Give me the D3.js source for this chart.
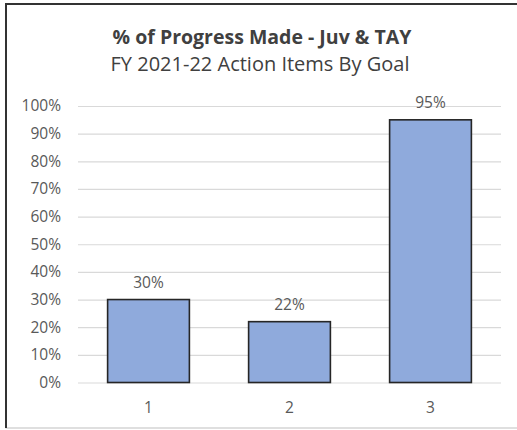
<!DOCTYPE html>
<html lang="en">
<head>
	<meta charset="UTF-8">
	<title>% of Progress Made - Juv &amp; TAY</title>
	<script src="https://cdn.jsdelivr.net/npm/d3@7/dist/d3.min.js"></script>
	<style>
		body { margin: 0; background: #fff; }
		svg text { font-family: "Open Sans", sans-serif; }
	</style>
</head>
<body>
<div id="viz"></div>
<script>
	var goals = ['1', '2', '3'];
	var progress = [30, 22, 95];
	var yTicks = [0, 10, 20, 30, 40, 50, 60, 70, 80, 90, 100];

	var W = 517, H = 430;
	var margin = {top: 106, left: 78, right: 16, bottom: 47.5};
	var width = W - margin.left - margin.right;
	var height = H - margin.top - margin.bottom;

	var svg = d3.select('#viz').append('svg')
		.attr('width', W)
		.attr('height', H);

	// frame of the chart area
	svg.append('rect')
		.attr('x', 6).attr('y', 4)
		.attr('width', 520).attr('height', 424)
		.attr('fill', 'none')
		.attr('stroke', '#bfbfbf');
	svg.append('path')
		.attr('d', 'M6,428V4H517')
		.attr('fill', 'none')
		.attr('stroke', '#333')
		.attr('stroke-width', 2);

	svg.append('text')
		.attr('x', 262).attr('y', 44)
		.attr('text-anchor', 'middle')
		.style('font-size', '19.5px')
		.style('font-weight', 'bold')
		.style('fill', '#404040')
		.text('% of Progress Made - Juv & TAY');

	svg.append('text')
		.attr('x', 260).attr('y', 71)
		.attr('text-anchor', 'middle')
		.style('font-size', '20px')
		.style('fill', '#404040')
		.text('FY 2021-22 Action Items By Goal');

	var g = svg.append('g')
		.attr('transform', 'translate(' + margin.left + ',' + margin.top + ')');

	var x = d3.scaleBand().domain(goals).range([0, width]).paddingInner(0.42).paddingOuter(0.21);
	var y = d3.scaleLinear().domain([0, 100]).range([height, 0]);

	// gridlines
	g.append('g')
		.call(d3.axisLeft(y).tickValues(yTicks).tickSize(-width).tickFormat(function (d) { return d + '%'; }))
		.call(function (a) {
			a.select('.domain').remove();
			a.selectAll('.tick line').attr('stroke', '#d9d9d9').attr('stroke-width', 1.2);
			a.selectAll('.tick text')
				.attr('x', -17)
				.style('font-size', '15.5px')
				.style('fill', '#595959');
		});

	g.selectAll('.bar')
		.data(progress)
		.enter().append('rect')
		.attr('class', 'bar')
		.attr('x', function (d, i) { return x(goals[i]); })
		.attr('y', function (d) { return y(d); })
		.attr('width', x.bandwidth())
		.attr('height', function (d) { return height - y(d); })
		.attr('fill', '#8faadc')
		.attr('stroke', '#262626')
		.attr('stroke-width', 1.6);

	g.selectAll('.lbl')
		.data(progress)
		.enter().append('text')
		.attr('class', 'lbl')
		.attr('x', function (d, i) { return x(goals[i]) + x.bandwidth() / 2; })
		.attr('y', function (d) { return y(d) - 12; })
		.attr('text-anchor', 'middle')
		.style('font-size', '15.5px')
		.style('fill', '#595959')
		.text(function (d) { return d + '%'; });

	g.append('g')
		.attr('transform', 'translate(0,' + height + ')')
		.call(d3.axisBottom(x).tickSize(0).tickPadding(19))
		.call(function (a) {
			a.select('.domain').remove();
			a.selectAll('.tick text')
				.style('font-size', '15.5px')
				.style('fill', '#595959');
		});
</script>
</body>
</html>
